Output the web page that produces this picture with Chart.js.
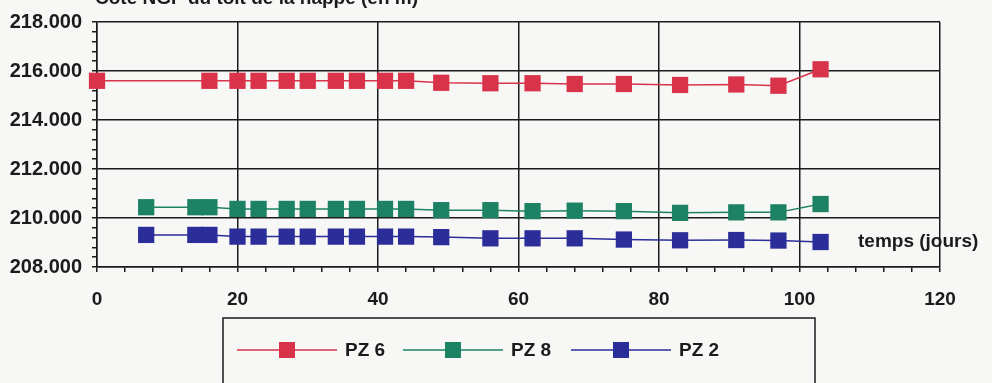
<!DOCTYPE html>
<html>
<head>
<meta charset="utf-8">
<script src="https://cdn.jsdelivr.net/npm/chart.js@4/dist/chart.umd.min.js"></script>
<style>
  body { margin: 0; background: #f7f7f6; }
  #wrap { width: 992px; height: 383px; }
</style>
</head>
<body>
<div id="wrap"><canvas id="myChart" width="992" height="383"></canvas></div>
<script>
// jours de mesure
const joursPZ6 = [0, 16, 20, 23, 27, 30, 34, 37, 41, 44, 49, 56, 62, 68, 75, 83, 91, 97, 103];
const joursPZ82 = [7, 14, 16, 20, 23, 27, 30, 34, 37, 41, 44, 49, 56, 62, 68, 75, 83, 91, 97, 103];

// cotes de la nappe (m)
const niveauxPZ6 = [215.6, 215.6, 215.6, 215.6, 215.6, 215.6, 215.6, 215.6, 215.6, 215.6, 215.52, 215.5, 215.5, 215.47, 215.47, 215.43, 215.45, 215.4, 216.07];
const niveauxPZ8 = [210.44, 210.44, 210.44, 210.37, 210.37, 210.37, 210.37, 210.37, 210.37, 210.37, 210.37, 210.32, 210.32, 210.28, 210.3, 210.28, 210.21, 210.23, 210.23, 210.57];
const niveauxPZ2 = [209.31, 209.31, 209.31, 209.24, 209.24, 209.24, 209.24, 209.24, 209.24, 209.24, 209.24, 209.22, 209.17, 209.17, 209.17, 209.12, 209.09, 209.1, 209.08, 209.02];

const series = ["PZ 6", "PZ 8", "PZ 2"];
const couleurs = ["#d93349", "#1d8264", "#2b2d98"];
const titre = "Cote NGF du toit de la nappe (en m)";
const titreAxeX = "temps (jours)";

const toPoints = (xs, ys) => xs.map((x, i) => ({ x, y: ys[i] }));

const makeDataset = (label, color, data) => ({
  label,
  data,
  borderColor: color,
  backgroundColor: color,
  borderWidth: 1.5,
  pointStyle: "rect",
  pointRadius: 11.5,
  pointHoverRadius: 11.5,
  pointBorderWidth: 0,
  tension: 0,
  clip: false
});

const datasets = [
  makeDataset(series[0], couleurs[0], toPoints(joursPZ6, niveauxPZ6)),
  makeDataset(series[1], couleurs[1], toPoints(joursPZ82, niveauxPZ8)),
  makeDataset(series[2], couleurs[2], toPoints(joursPZ82, niveauxPZ2))
];

const isMult = (v, m) => Math.abs(v / m - Math.round(v / m)) < 1e-6;
const ink = "#1b1b1b";

const decor = {
  id: "decor",
  beforeDraw(chart) {
    const ctx = chart.ctx;
    ctx.save();
    ctx.fillStyle = "#f7f7f6";
    ctx.fillRect(0, 0, chart.width, chart.height);
    ctx.restore();
  },
  afterDraw(chart) {
    const ctx = chart.ctx;
    ctx.save();
    ctx.fillStyle = ink;
    // titre coupé en haut
    ctx.font = "bold 19px 'Liberation Sans', Arial";
    ctx.textBaseline = "alphabetic";
    ctx.textAlign = "left";
    ctx.fillText(titre, 95, 4);

    // titre axe x
    ctx.textBaseline = "middle";
    ctx.fillText(titreAxeX, 858, 242);

    // légende
    ctx.strokeStyle = ink;
    ctx.lineWidth = 1.5;
    ctx.strokeRect(223, 318, 592, 90);
    const yL = 350;
    const starts = [237, 403, 571];
    chart.data.datasets.forEach((ds, i) => {
      const x0 = starts[i];
      ctx.strokeStyle = ds.borderColor;
      ctx.lineWidth = 1.5;
      ctx.beginPath();
      ctx.moveTo(x0, yL);
      ctx.lineTo(x0 + 100, yL);
      ctx.stroke();
      ctx.fillStyle = ds.backgroundColor;
      ctx.fillRect(x0 + 50 - 8, yL - 8, 16, 16);
      ctx.fillStyle = ink;
      ctx.textBaseline = "middle";
      ctx.fillText(ds.label, x0 + 108, yL + 1);
    });
    ctx.restore();
  }
};

new Chart(document.getElementById("myChart"), {
  type: "line",
  data: { datasets },
  options: {
    responsive: false,
    animation: false,
    layout: { padding: { top: 17, right: 52, bottom: 70, left: 0 } },
    plugins: {
      legend: { display: false },
      title: { display: false },
      tooltip: { enabled: false }
    },
    scales: {
      x: {
        type: "linear",
        min: 0,
        max: 120,
        afterFit: (s) => { s.height = 46; },
        ticks: {
          stepSize: 4,
          autoSkip: false,
          maxRotation: 0,
          padding: 16,
          color: ink,
          font: { family: "'Liberation Sans', Arial", size: 19, weight: "bold" },
          callback: (v) => (isMult(v, 20) ? String(v) : "")
        },
        grid: {
          color: (c) => (isMult(c.tick.value, 20) ? ink : "rgba(0,0,0,0)"),
          lineWidth: 1.5,
          tickColor: ink,
          tickLength: 5
        },
        border: { display: true, color: ink, width: 1.5 }
      },
      y: {
        min: 208,
        max: 218,
        afterFit: (s) => { s.width = 97; },
        ticks: {
          stepSize: 0.4,
          autoSkip: false,
          padding: 10,
          color: ink,
          font: { family: "'Liberation Sans', Arial", size: 20, weight: "bold" },
          callback: (v) => (isMult(v, 2) ? v.toFixed(3) : "")
        },
        grid: {
          color: (c) => (isMult(c.tick.value, 2) ? ink : "rgba(0,0,0,0)"),
          lineWidth: 1.5,
          tickColor: ink,
          tickLength: 5
        },
        border: { display: true, color: ink, width: 1.5 }
      }
    }
  },
  plugins: [decor]
});
</script>
</body>
</html>
